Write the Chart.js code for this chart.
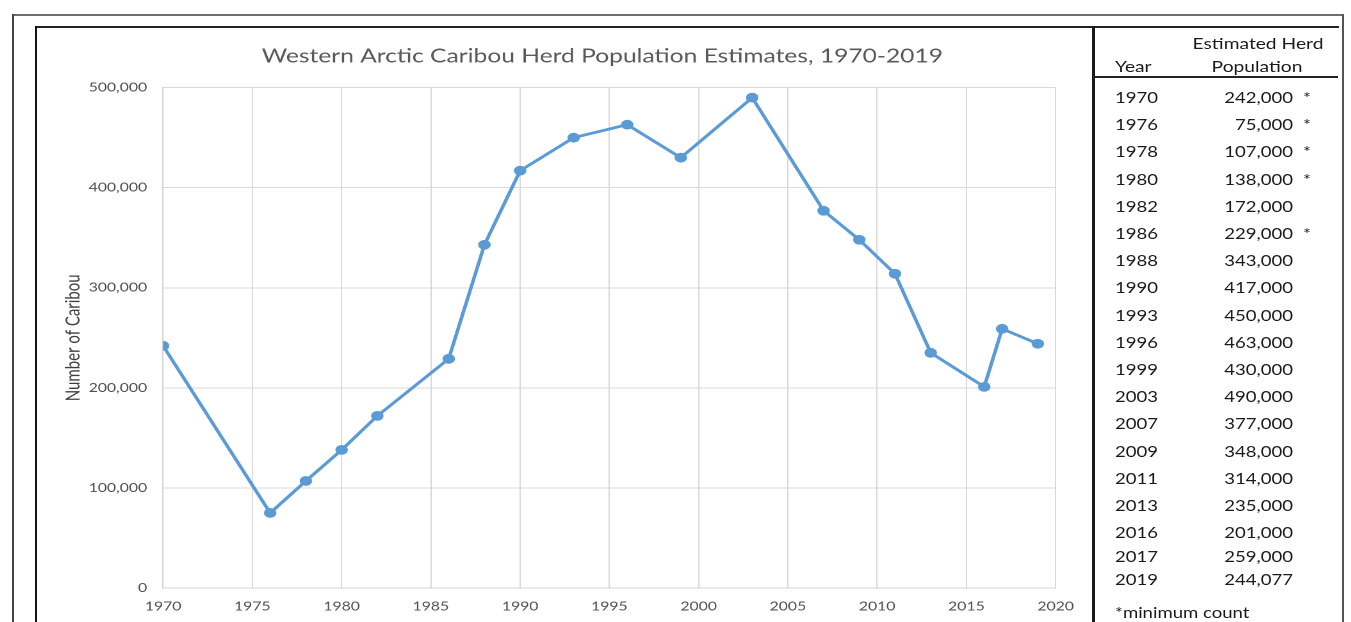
<!DOCTYPE html>
<html>
<head>
<meta charset="utf-8">
<script src="https://cdn.jsdelivr.net/npm/chart.js@4.4.1/dist/chart.umd.min.js"></script>
<style>
    body { margin: 0; width: 1351px; height: 622px; overflow: hidden; background: #fff; position: relative; font-family: Lato, 'Open Sans', sans-serif; }
    .rule { position: absolute; }
    #chartBox { position: absolute; left: 36px; top: 27px; height: 595px; transform-origin: 0 0; }
    #tableBox { position: absolute; left: 1094px; top: 0; height: 622px; transform-origin: 0 0; color: #1a1a1a; font-size: 14.5px; }
    .cell { position: absolute; white-space: nowrap; }
</style>
</head>
<body>
<div class="rule" style="left:13px;top:14px;width:1331px;height:2px;background:#6e6e6e"></div>
<div class="rule" style="left:12px;top:14px;width:2px;height:608px;background:#444"></div>
<div class="rule" style="left:1342px;top:14px;width:2px;height:608px;background:#555"></div>
<div class="rule" style="left:35px;top:26px;width:1304px;height:2px;background:#222"></div>
<div class="rule" style="left:35px;top:26px;width:2px;height:596px;background:#111"></div>
<div class="rule" style="left:1092px;top:26px;width:3px;height:596px;background:#1a1a1a"></div>
<div class="rule" style="left:1093px;top:76px;width:245px;height:2px;background:#222"></div>

<div id="chartBox"><canvas id="herdChart"></canvas></div>
<div id="tableBox"></div>

<script>
// survey years and estimated herd size
const years = [1970, 1976, 1978, 1980, 1982, 1986, 1988, 1990, 1993, 1996, 1999, 2003, 2007, 2009, 2011, 2013, 2016, 2017, 2019];
const population = [242000, 75000, 107000, 138000, 172000, 229000, 343000, 417000, 450000, 463000, 430000, 490000, 377000, 348000, 314000, 235000, 201000, 259000, 244077];
const minimumCount = [true, true, true, true, false, true, false, false, false, false, false, false, false, false, false, false, false, false, false];

const xTicks = [1970, 1975, 1980, 1985, 1990, 1995, 2000, 2005, 2010, 2015, 2020];
const yTicks = [0, 100000, 200000, 300000, 400000, 500000];

// the source picture is stretched wide, so everything is drawn narrow and scaled
const S = 1.28;

const chartBox = document.getElementById('chartBox');
chartBox.style.width = (1094 - 36) / S + 'px';
chartBox.style.transform = `scaleX(${S})`;

const fmt = (v) => v.toLocaleString('en-US');

// nudge the title a little left of the plot centre, like the original
const titleNudge = {
    id: 'titleNudge',
    afterLayout(chart) {
        const t = chart.titleBlock;
        if (t) { t.left -= 7 / S; t.right -= 7 / S; }
    }
};

new Chart(document.getElementById('herdChart').getContext('2d'), {
    type: 'line',
    data: {
        datasets: [{
            data: years.map((y, i) => ({ x: y, y: population[i] })),
            borderColor: '#5b9bd5',
            backgroundColor: '#5b9bd5',
            borderWidth: 2.8,
            pointRadius: 3.5,
            pointHoverRadius: 3.5,
            tension: 0,
        }]
    },
    plugins: [titleNudge],
    options: {
        responsive: true,
        maintainAspectRatio: false,
        animation: false,
        devicePixelRatio: 2,
        layout: { padding: { left: 0, right: (1094 - 1055) / S, top: 0, bottom: 0 } },
        plugins: {
            legend: { display: false },
            tooltip: { enabled: false },
            title: {
                display: true,
                fullSize: false,
                text: 'Western Arctic Caribou Herd Population Estimates, 1970-2019',
                color: '#595959',
                font: { family: 'Lato', size: 19.2, weight: 'normal' },
                padding: { top: 18, bottom: 19.6 },
            }
        },
        scales: {
            x: {
                type: 'linear',
                min: xTicks[0],
                max: xTicks[xTicks.length - 1],
                afterBuildTicks: (s) => { s.ticks = xTicks.map(v => ({ value: v })); },
                afterFit: (s) => { s.height = 34; },
                grid: { color: '#d9d9d9', drawTicks: false },
                border: { color: '#d4d4d4' },
                ticks: {
                    callback: (v) => String(v),
                    color: '#505050',
                    font: { family: 'Lato', size: 12.3 },
                    padding: 11,
                    maxRotation: 0,
                    autoSkip: false,
                }
            },
            y: {
                min: yTicks[0],
                max: yTicks[yTicks.length - 1],
                afterBuildTicks: (s) => { s.ticks = yTicks.map(v => ({ value: v })); },
                afterFit: (s) => { s.width = (163 - 36) / S; },
                grid: { color: '#d9d9d9', drawTicks: false },
                border: { color: '#d4d4d4' },
                ticks: {
                    callback: (v) => fmt(v),
                    color: '#505050',
                    font: { family: 'Lato', size: 12.3 },
                    padding: 12.5,
                },
                title: {
                    display: true,
                    text: 'Number of Caribou',
                    color: '#404040',
                    font: { family: 'Lato', size: 15 },
                    padding: { top: 20, bottom: 0 },
                }
            }
        }
    }
});

// table on the right
const tableBox = document.getElementById('tableBox');
tableBox.style.width = 244 / S + 'px';
tableBox.style.transform = `scaleX(${S})`;

const px = (realX) => realX / S + 'px';

function addCell(text, css) {
    const d = document.createElement('div');
    d.className = 'cell';
    d.textContent = text;
    Object.assign(d.style, css);
    tableBox.appendChild(d);
    return d;
}

addCell('Estimated Herd', { left: px(164 - 70), width: px(140), textAlign: 'center', top: '32.5px', lineHeight: '20px', fontSize: '15px' });
addCell('Population', { left: px(163 - 70), width: px(140), textAlign: 'center', top: '55.5px', lineHeight: '20px', fontSize: '15px' });
addCell('Year', { left: px(21), top: '55.5px', lineHeight: '20px', fontSize: '15px' });

let rowTop = 83.9;
years.forEach((yr, i) => {
    const h = i < 17 ? 27.2 : (i === 17 ? 22 : 24);
    const lh = { top: rowTop + 'px', lineHeight: h + 'px' };
    addCell(String(yr), { left: px(21), ...lh });
    addCell(fmt(population[i]), { right: px(244 - 199), ...lh });
    if (minimumCount[i]) addCell('*', { left: px(209), ...lh });
    rowTop += h;
});
addCell('*minimum count', { left: px(21), top: (rowTop + 10) + 'px', lineHeight: '22px' });
</script>
</body>
</html>
